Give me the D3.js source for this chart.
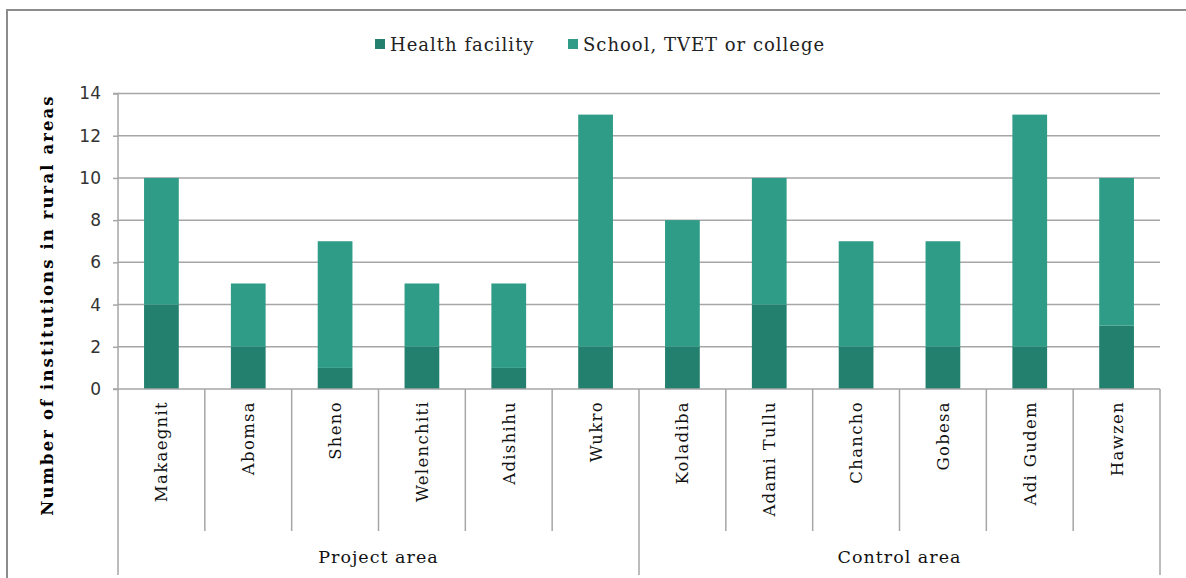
<!DOCTYPE html>
<html><head><meta charset="utf-8">
<script src="https://cdn.jsdelivr.net/npm/d3@7"></script>
<style>body{margin:0;background:#fff}svg{display:block}</style>
</head><body><svg id="c" width="1186" height="578"></svg>
<script>
const categories = ["Makaegnit","Abomsa","Sheno","Welenchiti","Adishihu","Wukro","Koladiba","Adami Tullu","Chancho","Gobesa","Adi Gudem","Hawzen"];
const groups = ["Project area","Control area"];
const groupSizes = [6,6];
const healthFacility = [4,2,1,2,1,2,2,4,2,2,2,3];
const schoolTvetCollege = [6,3,6,3,4,11,6,6,5,5,11,7];
const seriesNames = ["Health facility","School, TVET or college"];
const yTicks = [0,2,4,6,8,10,12,14];
const colors = ["#237F6E","#2E9C87"];

const svg = d3.select("#c");
const serif = "'DejaVu Serif', serif";
const sans = "'DejaVu Sans', sans-serif";
const L=118, R=1160, T=93.5, B=389;

// outer frame
svg.append("rect").attr("x",7).attr("y",10).attr("width",1200).attr("height",600)
  .attr("fill","none").attr("stroke","#8c8c8c").attr("stroke-width",2);

const x = d3.scaleBand().domain(categories).range([L,R]).paddingInner(0.6).paddingOuter(0.3);
const xc = d3.scaleBand().domain(categories).range([L,R]);
const y = d3.scaleLinear().domain([0,14]).range([B,T]);

// gridlines
svg.append("g").selectAll("line").data(yTicks.filter(d=>d>0)).join("line")
  .attr("x1",L).attr("x2",R).attr("y1",d=>y(d)).attr("y2",d=>y(d))
  .attr("stroke","#a6a6a6").attr("stroke-width",1.5);

// stacked bars
const data = categories.map((c,i)=>({cat:c, h:healthFacility[i], s:schoolTvetCollege[i]}));
const stack = d3.stack().keys(["h","s"])(data);
svg.append("g").selectAll("g").data(stack).join("g").attr("fill",(d,i)=>colors[i])
  .selectAll("rect").data(d=>d).join("rect")
  .attr("x",d=>x(d.data.cat)).attr("width",x.bandwidth())
  .attr("y",d=>y(d[1])).attr("height",d=>y(d[0])-y(d[1]));

// y axis
const yAxis = d3.axisLeft(y).tickValues(yTicks).tickSize(5).tickPadding(12).tickFormat(d3.format("d"));
const ya = svg.append("g").attr("transform",`translate(${L},0)`).call(yAxis);
ya.select(".domain").attr("stroke","#a6a6a6").attr("stroke-width",1.5).attr("d",`M-5,${T}H0V${B}H-5`);
ya.selectAll(".tick line").attr("stroke","#a6a6a6").attr("stroke-width",1.5);
ya.selectAll(".tick text").attr("font-family",sans).attr("font-size",17).attr("fill","#333");

// x axis baseline
svg.append("line").attr("x1",L).attr("x2",R).attr("y1",B).attr("y2",B).attr("stroke","#a6a6a6").attr("stroke-width",1.5);
// category separators
const seps = d3.range(categories.length+1);
let gi=[0]; groupSizes.reduce((a,b)=>{gi.push(a+b);return a+b},0);
svg.append("g").selectAll("line").data(seps).join("line")
  .attr("x1",i=>L+i*xc.step()).attr("x2",i=>L+i*xc.step())
  .attr("y1",B).attr("y2",i=>gi.includes(i)?575:531)
  .attr("stroke","#a6a6a6").attr("stroke-width",1.5);

// category labels
svg.append("g").selectAll("text").data(categories).join("text")
  .attr("transform",d=>`translate(${xc(d)+xc.bandwidth()/2+6},401) rotate(-90)`)
  .attr("text-anchor","end").attr("font-family",serif).attr("font-size",16.5)
  .attr("letter-spacing",1.3).attr("fill","#111").text(d=>d);

// group labels
svg.append("g").selectAll("text").data(groups).join("text")
  .attr("x",(d,i)=>L+(gi[i]+gi[i+1])/2*xc.step()).attr("y",563)
  .attr("text-anchor","middle").attr("font-family",serif).attr("font-size",17.5)
  .attr("letter-spacing",1).attr("fill","#111").text(d=>d);

// y title
svg.append("text").attr("transform",`translate(53,${(95+515)/2}) rotate(-90)`)
  .attr("text-anchor","middle").attr("font-family",serif).attr("font-weight","bold")
  .attr("font-size",16.5).attr("letter-spacing",2.1).attr("fill","#000").text("Number of institutions in rural areas");

// legend
const lg = svg.append("g");
const lx=[375,568];
seriesNames.forEach((n,i)=>{
  lg.append("rect").attr("x",lx[i]).attr("y",39).attr("width",10).attr("height",10).attr("fill",colors[i]);
  lg.append("text").attr("x",lx[i]+15).attr("y",51).attr("font-family",serif).attr("font-size",18)
    .attr("letter-spacing",1).attr("fill","#222").text(n);
});
</script></body></html>
